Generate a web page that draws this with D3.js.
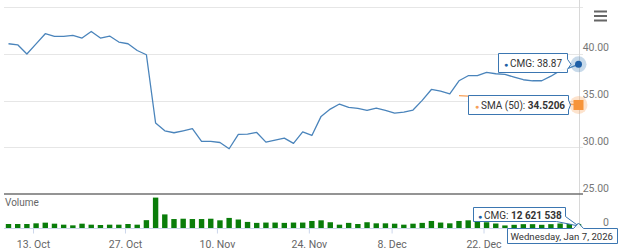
<!DOCTYPE html>
<html>
<head>
<meta charset="utf-8">
<script src="https://cdn.jsdelivr.net/npm/d3@7"></script>
<style>
	body { margin: 0; background: #fff; }
	svg text { font-family: Roboto, "Liberation Sans", sans-serif; }
</style>
</head>
<body>
<div id="chart"></div>
<script>
//////////////////////////////////////////////////
// data (CMG daily, Oct 8 2025 - Jan 7 2026)
//////////////////////////////////////////////////
var holidays = ['2025-11-27', '2025-12-25', '2026-01-01'];
var tickDates = ['2025-10-13', '2025-10-27', '2025-11-10', '2025-11-24', '2025-12-08', '2025-12-22'];
var priceTicks = [25, 30, 35, 40, 45];
var volumeTicks = [0];

var closes = [
	41.07, 40.96, 39.97, 41.05, 42.14, 41.85, 41.85, 41.96, 41.68, 42.39,
	41.68, 41.89, 41.25, 41.07, 40.35, 39.89, 32.59, 31.76, 31.55, 31.76,
	31.98, 30.62, 30.62, 30.51, 29.84, 31.37, 31.41, 31.58, 30.55, 30.77,
	30.98, 30.41, 31.64, 31.26, 33.30, 34.08, 34.62, 34.26, 34.15, 33.94,
	34.19, 33.94, 33.66, 33.76, 33.98, 35.01, 36.18, 36.01, 35.72, 37.11,
	37.65, 37.65, 38.00, 37.86, 37.80, 37.50, 37.22, 37.11, 37.11, 37.60,
	38.20, 38.50, 38.87
];

// millions of shares
var volumes = [
	12.5, 12.5, 12.5, 14.6, 16.7, 13.5, 10.4, 8.3, 13.5, 10.4,
	9.4, 10.4, 10.4, 12.5, 10.4, 24.5, 95.0, 42.5, 28.0, 29.0,
	28.0, 28.0, 29.0, 24.0, 31.5, 26.5, 19.0, 16.0, 17.0, 17.0,
	16.0, 17.0, 17.0, 22.0, 24.0, 18.0, 10.4, 16.0, 12.5, 18.0,
	14.6, 14.6, 13.5, 10.4, 13.5, 16.0, 22.0, 17.0, 14.6, 22.0,
	24.0, 20.0, 18.0, 14.0, 8.0, 10.0, 12.0, 12.0, 10.0, 12.0,
	14.0, 16.0, 12.62
];

// SMA (50) starts on the 50th session
var smaStart = 49;
var smaValues = [35.52, 35.47, 35.40, 35.33, 35.27, 35.18, 35.10, 35.02, 34.93, 34.85, 34.78, 34.70, 34.61, 34.5206];

var lastVolume = 12621538;

//////////////////////////////////////////////////
// trading sessions (weekdays minus exchange holidays)
//////////////////////////////////////////////////
var isoFmt = d3.utcFormat('%Y-%m-%d');
var sessions = d3.utcDay.range(new Date(Date.UTC(2025, 9, 8)), new Date(Date.UTC(2026, 0, 8)))
	.filter(function(d) {
		var w = d.getUTCDay();
		return w !== 0 && w !== 6 && holidays.indexOf(isoFmt(d)) < 0;
	});
var sessionKeys = sessions.map(isoFmt);

var W = 620, H = 250,
	plotLeft = 4, plotRight = 583,
	priceColor = '#4a84bb',
	smaColor = '#f7a15a',
	volColor = '#0a7d0a',
	tipBorder = '#3b76b1';

var svg = d3.select('#chart').append('svg')
	.attr('width', W)
	.attr('height', H);

var x = d3.scaleLinear().domain([0, sessions.length - 1]).range([8.5, 578.5]);
var step = x(1) - x(0);
var y = d3.scaleLinear().domain([25, 45]).range([194, 7]);
var yVol = d3.scaleLinear().domain([0, 100]).range([228, 196]);

//////////////////////////////////////////////////
// grid + axes
//////////////////////////////////////////////////
svg.append('g').selectAll('line')
	.data(priceTicks.filter(function(t) { return t !== 25; }))
	.enter().append('line')
	.attr('x1', plotLeft).attr('x2', plotRight)
	.attr('y1', function(d) { return Math.round(y(d)) + 0.5; })
	.attr('y2', function(d) { return Math.round(y(d)) + 0.5; })
	.attr('stroke', '#e6e6e6');

svg.append('g').selectAll('text')
	.data(priceTicks.filter(function(t) { return t !== 45; }))
	.enter().append('text')
	.attr('x', 609)
	.attr('y', function(d) { return y(d) - 2.5; })
	.attr('text-anchor', 'end')
	.attr('font-size', 10.5)
	.attr('fill', '#777')
	.text(function(d) { return d3.format('.2f')(d); });

svg.append('g').selectAll('text')
	.data(volumeTicks)
	.enter().append('text')
	.attr('x', 609)
	.attr('y', function(d) { return yVol(d) - 2.5; })
	.attr('text-anchor', 'end')
	.attr('font-size', 10.5)
	.attr('fill', '#777')
	.text(function(d) { return d; });

// crosshair on the hovered session
var hover = sessions.length - 1;
svg.append('line')
	.attr('x1', Math.round(x(hover)) + 0.5).attr('x2', Math.round(x(hover)) + 0.5)
	.attr('y1', 0).attr('y2', 228)
	.attr('stroke', '#d8d8d8');

// x axis: labels sit slightly left of the session (midnight on the ordinal axis)
var tickShift = -0.33 * step;
var xAxis = d3.axisBottom(d3.scaleLinear().domain(x.domain()).range(x.range()))
	.tickValues(tickDates.map(function(k) { return sessionKeys.indexOf(k) + tickShift / step; }))
	.tickFormat(function(v) { return d3.utcFormat('%-d. %b')(sessions[Math.round(v)]); })
	.tickSize(5)
	.tickSizeOuter(0);

var gx = svg.append('g')
	.attr('transform', 'translate(0,228.5)')
	.call(xAxis);
gx.select('.domain').remove();
gx.selectAll('line').attr('stroke', '#ccd6eb');
gx.selectAll('text')
	.attr('font-family', 'Roboto, "Liberation Sans", sans-serif')
	.attr('font-size', 10.5)
	.attr('fill', '#666')
	.attr('dy', '1.1em');
gx.insert('line', ':first-child')
	.attr('x1', plotLeft).attr('x2', plotRight)
	.attr('stroke', '#ccd6eb');

//////////////////////////////////////////////////
// series
//////////////////////////////////////////////////
svg.append('path')
	.datum(closes)
	.attr('fill', 'none')
	.attr('stroke', priceColor)
	.attr('stroke-width', 1.3)
	.attr('stroke-linejoin', 'round')
	.attr('d', d3.line()
		.x(function(d, i) { return x(i); })
		.y(function(d) { return y(d); }));

svg.append('path')
	.datum(smaValues)
	.attr('fill', 'none')
	.attr('stroke', smaColor)
	.attr('stroke-width', 1.3)
	.attr('d', d3.line()
		.x(function(d, i) { return x(smaStart + i); })
		.y(function(d) { return y(d); }));

svg.append('g').selectAll('rect')
	.data(volumes)
	.enter().append('rect')
	.attr('x', function(d, i) { return x(i) - 2.7; })
	.attr('width', 5.4)
	.attr('y', function(d) { return yVol(d); })
	.attr('height', function(d) { return yVol(0) - yVol(d); })
	.attr('fill', volColor);

// pane separator
svg.append('line')
	.attr('x1', plotLeft).attr('x2', plotRight)
	.attr('y1', y(25)).attr('y2', y(25))
	.attr('stroke', '#707070')
	.attr('stroke-width', 1.6);

svg.append('text')
	.attr('x', 5).attr('y', 206)
	.attr('font-size', 10)
	.attr('fill', '#666')
	.text('Volume');

// export menu icon
svg.append('g').selectAll('rect')
	.data([0, 1, 2])
	.enter().append('rect')
	.attr('x', 594).attr('width', 13)
	.attr('y', function(d) { return 10.5 + d * 4.5; })
	.attr('height', 2)
	.attr('fill', '#666');

//////////////////////////////////////////////////
// hover markers
//////////////////////////////////////////////////
var px = x(hover), py = y(closes[hover]), sy = y(smaValues[smaValues.length - 1]);

svg.append('circle').attr('cx', px).attr('cy', py).attr('r', 8)
	.attr('fill', priceColor).attr('opacity', 0.3);
svg.append('circle').attr('cx', px).attr('cy', py).attr('r', 3.5)
	.attr('fill', '#1d5ea6');

svg.append('circle').attr('cx', px).attr('cy', sy).attr('r', 9)
	.attr('fill', smaColor).attr('opacity', 0.3);
svg.append('rect').attr('x', px - 5).attr('y', sy - 5).attr('width', 10).attr('height', 10)
	.attr('fill', '#f79439');

//////////////////////////////////////////////////
// tooltips
//////////////////////////////////////////////////
function calloutRight(b, tx, ty) {
	return 'M' + b.x + ',' + b.y + 'H' + (b.x + b.w) + 'V' + (ty - 5) +
		'L' + tx + ',' + ty + 'L' + (b.x + b.w) + ',' + (ty + 5) +
		'V' + (b.y + b.h) + 'H' + b.x + 'Z';
}

function calloutUp(b, tx, ty) {
	return 'M' + b.x + ',' + b.y + 'H' + (tx - 5) + 'L' + tx + ',' + ty +
		'L' + (tx + 5) + ',' + b.y + 'H' + (b.x + b.w) + 'V' + (b.y + b.h) +
		'H' + b.x + 'Z';
}

function calloutCorner(b, tx, ty) {
	return 'M' + b.x + ',' + b.y + 'H' + (b.x + b.w) + 'V' + (b.y + b.h - 5) +
		'L' + tx + ',' + ty + 'L' + (b.x + b.w - 9) + ',' + (b.y + b.h) +
		'H' + b.x + 'Z';
}

function tooltip(pathD, tx, ty, size, dotColor, label, value, bold) {
	var g = svg.append('g');
	g.append('path')
		.attr('d', pathD)
		.attr('fill', 'rgba(255,255,255,0.95)')
		.attr('stroke', tipBorder)
		.attr('stroke-width', 1);
	var t = g.append('text')
		.attr('x', tx).attr('y', ty)
		.attr('font-size', size)
		.attr('fill', '#333');
	if (dotColor) {
		t.append('tspan').attr('fill', dotColor).attr('font-size', 7).text('\u25CF ');
	}
	t.append('tspan').text(label);
	if (value) {
		t.append('tspan').attr('font-weight', bold ? 'bold' : null).text(value);
	}
	return g;
}

var priceBox = {x: 498.5, y: 53.5, w: 69, h: 19};
tooltip(calloutRight(priceBox, px - 7.5, py), 504, 67, 10, '#1d5ea6', 'CMG: ', d3.format('.2f')(closes[hover]), false);

var smaBox = {x: 468.5, y: 95.5, w: 100, h: 19};
tooltip(calloutRight(smaBox, px - 8, sy), 475, 109, 10, smaColor, 'SMA (50): ', d3.format('.4f')(smaValues[smaValues.length - 1]), true);

var volBox = {x: 473.5, y: 207.5, w: 92, h: 14};
tooltip(calloutCorner(volBox, px, 226), 478, 218.5, 10, '#1d5ea6', 'CMG: ',
	d3.format(',')(lastVolume).replace(/,/g, ' '), true);

var dateBox = {x: 507.5, y: 228.5, w: 110, h: 15};
tooltip(calloutUp(dateBox, px, 223), 510.5, 240, 9.6, null, d3.utcFormat('%A, %b %-d, %Y')(sessions[hover]), null, false);
</script>
</body>
</html>
